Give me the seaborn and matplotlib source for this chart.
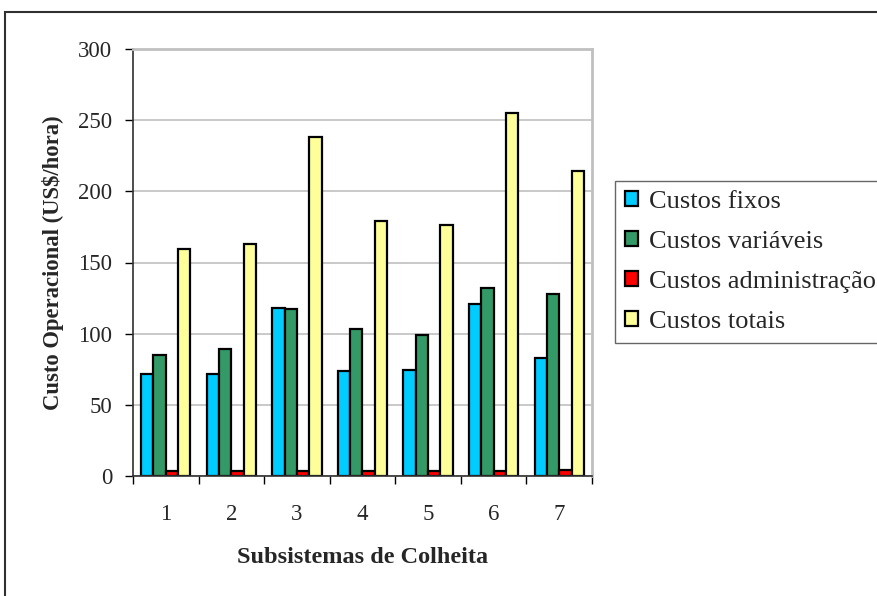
import matplotlib
matplotlib.use("Agg")
import matplotlib.pyplot as plt
from matplotlib.patches import Rectangle
import seaborn as sns
import pandas as pd

subsistemas = ["1", "2", "3", "4", "5", "6", "7"]
custos_fixos = [72, 72, 118, 74, 74.5, 121, 83]
custos_variaveis = [85, 89, 117, 103, 99, 132, 128]
custos_administracao = [3.5, 3.5, 3.5, 3.5, 3.5, 3.5, 4.5]
custos_totais = [159.5, 163, 238, 179.5, 176, 255, 214.5]

series_names = ["Custos fixos", "Custos variáveis", "Custos administração", "Custos totais"]
series_colors = ["#00CCFF", "#339966", "#FF0000", "#FFFF99"]

df = pd.DataFrame({
    "Subsistema": subsistemas,
    series_names[0]: custos_fixos,
    series_names[1]: custos_variaveis,
    series_names[2]: custos_administracao,
    series_names[3]: custos_totais,
})
long_df = df.melt(id_vars="Subsistema", var_name="Custo", value_name="Valor")

sns.set_style("white")
plt.rcParams["font.family"] = ["Liberation Serif", "DejaVu Serif"]

fig = plt.figure(figsize=(8.78, 5.96), dpi=100)
ax = fig.add_axes([133 / 878, 1 - 476 / 596, (592 - 133) / 878, (476 - 49) / 596])

sns.barplot(
    data=long_df, x="Subsistema", y="Valor", hue="Custo",
    hue_order=series_names, palette=series_colors, order=subsistemas,
    width=0.75, edgecolor="black", linewidth=1.6, saturation=1,
    ax=ax, legend=True,
)

ax.set_ylim(0, 300)
ax.set_xlim(-0.5, 6.5)
ax.set_yticks(range(0, 301, 50))
ax.yaxis.grid(True, color="#C0C0C0", linewidth=1.2)
ax.set_axisbelow(True)

# category labels at centers, tick marks between categories
ax.set_xticks(range(7))
ax.set_xticklabels(subsistemas)
ax.tick_params(axis="x", which="major", length=0, pad=20, labelsize=16.5)
ax.set_xticks([i - 0.5 for i in range(8)], minor=True)
ax.tick_params(axis="x", which="minor", length=6, width=1, color="black", direction="out", bottom=True)
ax.tick_params(axis="y", length=6, width=1, color="black", direction="out", left=True, labelsize=16.5, pad=9)

for side in ("top", "right"):
    ax.spines[side].set_color("#C0C0C0")
    ax.spines[side].set_linewidth(2)
    ax.spines[side].set_visible(True)
for side in ("left", "bottom"):
    ax.spines[side].set_color("#303030")
    ax.spines[side].set_linewidth(1.2)

ax.set_ylabel("Custo Operacional (US$/hora)", fontsize=16.3, fontweight="bold", labelpad=10)
ax.set_xlabel("Subsistemas de Colheita", fontsize=17.5, fontweight="bold", labelpad=16)

handles, labels = ax.get_legend_handles_labels()
ax.get_legend().remove()
leg = fig.legend(
    handles, labels, loc="upper left",
    bbox_to_anchor=(615 / 878, 1 - 181 / 596), bbox_transform=fig.transFigure,
    borderaxespad=0, fontsize=19, frameon=True, fancybox=False,
    handlelength=0.5, handleheight=0.5, handletextpad=0.4,
    labelspacing=0.68, borderpad=0.38,
)
leg.get_frame().set_edgecolor("#404040")
leg.get_frame().set_linewidth(1.0)

# outer chart frame
fig.patches.append(Rectangle((5 / 878, -0.05), 1.1, 1 - 12 / 596 + 0.05,
                             transform=fig.transFigure, fill=False,
                             edgecolor="#303030", linewidth=1.5))

fig.savefig("out.png", dpi=100)
